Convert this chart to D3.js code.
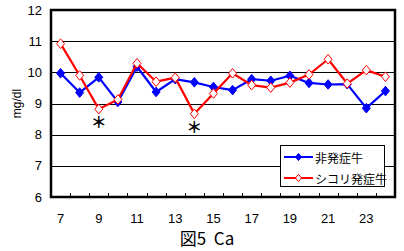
<!DOCTYPE html>
<html>
<head>
<meta charset="utf-8">
<script src="https://cdn.jsdelivr.net/npm/d3@7"></script>
<style>
  html, body { margin: 0; padding: 0; background: #fff; }
  svg { display: block; }
  text { font-family: "Liberation Sans", Arial, sans-serif; fill: #000; }
  .jp { font-family: "Noto Sans CJK JP", sans-serif; }
</style>
</head>
<body>
<div id="chart"></div>
<script>
const days = d3.range(7, 25)
const tickLabels = [7, 9, 11, 13, 15, 17, 19, 21, 23]
const yTicks = [6, 7, 8, 9, 10, 11, 12]
const normal = [9.97, 9.35, 9.84, 9.05, 10.18, 9.37, 9.78, 9.68, 9.53, 9.43, 9.78, 9.73, 9.89, 9.66, 9.61, 9.62, 8.85, 9.4]
const sick = [10.92, 9.9, 8.82, 9.13, 10.29, 9.7, 9.83, 8.67, 9.32, 9.97, 9.59, 9.51, 9.67, 9.93, 10.42, 9.64, 10.07, 9.86]
const marks = [9, 14]
const seriesNames = ['非発症牛', 'シコリ発症牛']

const W = 404, H = 251
const m = { left: 51, top: 10, right: 9, bottom: 54 }

const svg = d3.select('#chart').append('svg')
  .attr('width', W)
  .attr('height', H)

const x = d3.scaleBand()
  .domain(days)
  .range([m.left, W - m.right])

const y = d3.scaleLinear()
  .domain([6, 12])
  .range([H - m.bottom, m.top])

const cx = d => x(d) + x.bandwidth() / 2

/* gridlines */
svg.append('g')
  .selectAll('line')
  .data(yTicks.filter(v => v > 6 && v < 12))
  .join('line')
  .attr('x1', m.left).attr('x2', W - m.right)
  .attr('y1', d => Math.round(y(d)) + 0.5).attr('y2', d => Math.round(y(d)) + 0.5)
  .attr('stroke', '#000')
  .attr('stroke-width', 1)

/* y labels */
svg.append('g')
  .selectAll('text')
  .data(yTicks)
  .join('text')
  .attr('x', 42)
  .attr('y', d => y(d))
  .attr('text-anchor', 'end')
  .attr('dominant-baseline', 'central')
  .attr('font-size', 13)
  .text(d => d)

/* x ticks (pointing up from axis) */
svg.append('g')
  .selectAll('line')
  .data(days.slice(1))
  .join('line')
  .attr('x1', d => Math.round(x(d)) + 0.5).attr('x2', d => Math.round(x(d)) + 0.5)
  .attr('y1', y(6)).attr('y2', y(6) - 4)
  .attr('stroke', '#000')

svg.append('g')
  .selectAll('text')
  .data(tickLabels)
  .join('text')
  .attr('x', d => cx(d))
  .attr('y', 218)
  .attr('text-anchor', 'middle')
  .attr('dominant-baseline', 'central')
  .attr('font-size', 13)
  .text(d => d)

/* frame */
svg.append('rect')
  .attr('x', m.left)
  .attr('y', m.top)
  .attr('width', W - m.right - m.left)
  .attr('height', y(6) - m.top)
  .attr('fill', 'none')
  .attr('stroke', '#000')
  .attr('stroke-width', 2.5)

/* axis title */
svg.append('text')
  .attr('transform', `translate(17,${y(9)}) rotate(-90)`)
  .attr('text-anchor', 'middle')
  .attr('dominant-baseline', 'central')
  .attr('font-size', 12)
  .text('mg/dl')

/* chart title */
svg.append('text')
  .attr('class', 'jp')
  .attr('x', 207)
  .attr('y', 237)
  .attr('text-anchor', 'middle')
  .attr('dominant-baseline', 'central')
  .attr('font-size', 17)
  .attr('xml:space', 'preserve')
  .text('図5  Ca')

const diamond = (s) => `M0,${-s * 1.2}L${s},0L0,${s * 1.2}L${-s},0Z`

const line = d3.line()
  .x(d => cx(d.day))
  .y(d => y(d.v))

const sets = [
  { name: seriesNames[0], values: normal, color: '#0000ff', fill: '#0000ff' },
  { name: seriesNames[1], values: sick, color: '#ff0000', fill: '#ffffff' }
]

sets.forEach(s => {
  const pts = days.map((d, i) => ({ day: d, v: s.values[i] }))
  svg.append('path')
    .datum(pts)
    .attr('d', line)
    .attr('fill', 'none')
    .attr('stroke', s.color)
    .attr('stroke-width', 2.2)
    .attr('stroke-linejoin', 'round')
  svg.append('g')
    .selectAll('path')
    .data(pts)
    .join('path')
    .attr('transform', d => `translate(${cx(d.day)},${y(d.v)})`)
    .attr('d', diamond(4))
    .attr('fill', s.fill)
    .attr('stroke', s.color)
    .attr('stroke-width', 1)
})

/* significance marks */
svg.append('g')
  .selectAll('text')
  .data(marks)
  .join('text')
  .attr('class', 'jp')
  .attr('x', d => cx(d))
  .attr('y', d => y(sick[days.indexOf(d)]) + 12)
  .attr('text-anchor', 'middle')
  .attr('dominant-baseline', 'central')
  .attr('font-size', 16)
  .attr('font-weight', 'bold')
  .text('＊')

/* legend */
const lg = svg.append('g').attr('transform', 'translate(280,145)')
lg.append('rect')
  .attr('x', 0.5).attr('y', 0.5)
  .attr('width', 104).attr('height', 41)
  .attr('fill', '#fff')
  .attr('stroke', '#000')

sets.forEach((s, i) => {
  const ly = 12 + i * 21
  lg.append('line')
    .attr('x1', 4).attr('x2', 33)
    .attr('y1', ly).attr('y2', ly)
    .attr('stroke', s.color)
    .attr('stroke-width', 2)
  lg.append('path')
    .attr('transform', `translate(18.5,${ly})`)
    .attr('d', diamond(3))
    .attr('fill', s.fill)
    .attr('stroke', s.color)
  lg.append('text')
    .attr('class', 'jp')
    .attr('x', 35)
    .attr('y', ly)
    .attr('dominant-baseline', 'central')
    .attr('font-size', 12)
    .text(s.name)
})
</script>
</body>
</html>
